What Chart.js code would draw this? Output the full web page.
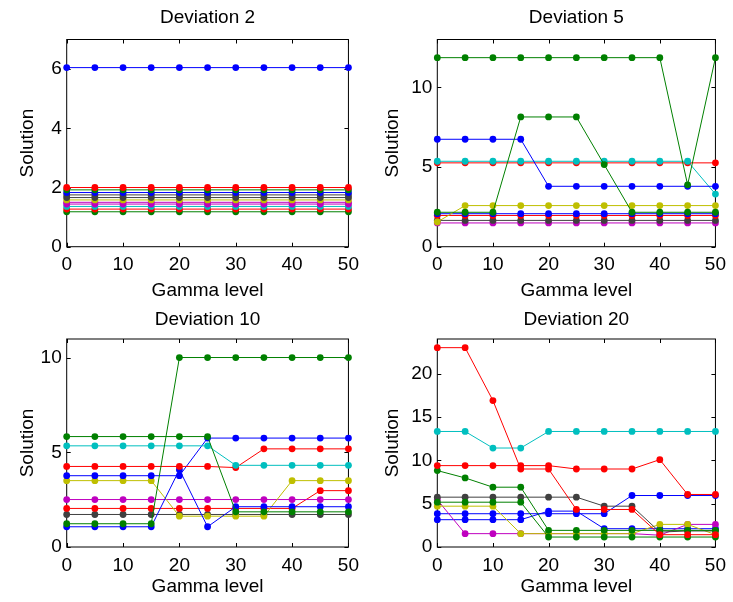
<!DOCTYPE html>
<html>
<head>
<meta charset="utf-8">
<script src="https://cdn.jsdelivr.net/npm/chart.js@4.4.1/dist/chart.umd.min.js"></script>
<style>
  body { margin: 0; background: #fff; }
  #fig { position: relative; width: 733px; height: 602px; }
  #fig canvas { position: absolute; }
</style>
</head>
<body>
<div id="fig">
  <canvas id="dev2" width="366" height="301" style="left:0;top:0"></canvas>
  <canvas id="dev5" width="367" height="301" style="left:366px;top:0"></canvas>
  <canvas id="dev10" width="366" height="301" style="left:0;top:301px"></canvas>
  <canvas id="dev20" width="367" height="301" style="left:366px;top:301px"></canvas>
</div>
<script>
// gamma levels on the x axis
const gamma = [0, 5, 10, 15, 20, 25, 30, 35, 40, 45, 50];
const xTicks = [0, 10, 20, 30, 40, 50];

// Deviation 2 -- every line is flat
const dev2Series = [
  [6.05, 6.05, 6.05, 6.05, 6.05, 6.05, 6.05, 6.05, 6.05, 6.05, 6.05],
  [2.0, 2.0, 2.0, 2.0, 2.0, 2.0, 2.0, 2.0, 2.0, 2.0, 2.0],
  [1.92, 1.92, 1.92, 1.92, 1.92, 1.92, 1.92, 1.92, 1.92, 1.92, 1.92],
  [1.83, 1.83, 1.83, 1.83, 1.83, 1.83, 1.83, 1.83, 1.83, 1.83, 1.83],
  [1.75, 1.75, 1.75, 1.75, 1.75, 1.75, 1.75, 1.75, 1.75, 1.75, 1.75],
  [1.66, 1.66, 1.66, 1.66, 1.66, 1.66, 1.66, 1.66, 1.66, 1.66, 1.66],
  [1.58, 1.58, 1.58, 1.58, 1.58, 1.58, 1.58, 1.58, 1.58, 1.58, 1.58],
  [1.5, 1.5, 1.5, 1.5, 1.5, 1.5, 1.5, 1.5, 1.5, 1.5, 1.5],
  [1.44, 1.44, 1.44, 1.44, 1.44, 1.44, 1.44, 1.44, 1.44, 1.44, 1.44],
  [1.36, 1.36, 1.36, 1.36, 1.36, 1.36, 1.36, 1.36, 1.36, 1.36, 1.36],
  [1.27, 1.27, 1.27, 1.27, 1.27, 1.27, 1.27, 1.27, 1.27, 1.27, 1.27],
  [1.18, 1.18, 1.18, 1.18, 1.18, 1.18, 1.18, 1.18, 1.18, 1.18, 1.18]
];
const dev2Colors = ['b', 'r', 'g', 'b', 'k', 'k', 'y', 'm', 'm', 'c', 'r', 'g'];
const dev2YTicks = [0, 2, 4, 6];

// Deviation 5
const dev5Series = [
  [11.86, 11.86, 11.86, 11.86, 11.86, 11.86, 11.86, 11.86, 11.86, 3.88, 11.86],
  [2.16, 2.16, 2.16, 8.14, 8.14, 8.14, 5.15, 2.16, 2.16, 2.16, 2.16],
  [6.74, 6.74, 6.74, 6.74, 3.79, 3.79, 3.79, 3.79, 3.79, 3.79, 3.79],
  [5.36, 5.36, 5.36, 5.36, 5.36, 5.36, 5.36, 5.36, 5.36, 5.36, 3.3],
  [5.26, 5.26, 5.26, 5.26, 5.26, 5.26, 5.26, 5.26, 5.26, 5.26, 5.26],
  [1.55, 2.58, 2.58, 2.58, 2.58, 2.58, 2.58, 2.58, 2.58, 2.58, 2.58],
  [2.07, 2.07, 2.07, 2.07, 2.07, 2.07, 2.07, 2.07, 2.07, 2.07, 2.07],
  [1.96, 1.96, 1.96, 1.96, 1.96, 1.96, 1.96, 1.96, 1.96, 1.96, 1.96],
  [1.65, 1.65, 1.65, 1.65, 1.65, 1.65, 1.65, 1.65, 1.65, 1.65, 1.65],
  [1.49, 1.49, 1.49, 1.49, 1.49, 1.49, 1.49, 1.49, 1.49, 1.49, 1.49]
];
const dev5Colors = ['g', 'g', 'b', 'c', 'r', 'y', 'b', 'r', 'k', 'm'];
const dev5YTicks = [0, 5, 10];

// Deviation 10
const dev10Series = [
  [5.84, 5.84, 5.84, 5.84, 5.84, 5.84, 1.86, 1.86, 1.86, 1.86, 1.86],
  [1.23, 1.23, 1.23, 1.23, 10.02, 10.02, 10.02, 10.02, 10.02, 10.02, 10.02],
  [5.35, 5.35, 5.35, 5.35, 5.35, 5.35, 4.32, 4.32, 4.32, 4.32, 4.32],
  [4.26, 4.26, 4.26, 4.26, 4.26, 4.26, 4.2, 5.19, 5.19, 5.19, 5.19],
  [3.77, 3.77, 3.77, 3.77, 3.77, 5.76, 5.76, 5.76, 5.76, 5.76, 5.76],
  [1.07, 1.07, 1.07, 1.07, 4.09, 1.07, 2.13, 2.13, 2.13, 2.13, 2.13],
  [3.51, 3.51, 3.51, 3.51, 1.63, 1.63, 1.63, 1.63, 3.51, 3.51, 3.51],
  [2.51, 2.51, 2.51, 2.51, 2.51, 2.51, 2.51, 2.51, 2.51, 2.51, 2.51],
  [2.04, 2.04, 2.04, 2.04, 2.04, 2.04, 2.04, 2.04, 2.04, 2.98, 2.98],
  [1.72, 1.72, 1.72, 1.72, 1.72, 1.72, 1.72, 1.72, 1.72, 1.72, 1.72]
];
const dev10Colors = ['g', 'g', 'c', 'r', 'b', 'b', 'y', 'm', 'r', 'k'];
const dev10YTicks = [0, 5, 10];

// Deviation 20
const dev20Series = [
  [23.0, 23.0, 16.9, 9.0, 9.0, 4.33, 4.33, 4.33, 1.42, 1.42, 1.42],
  [9.39, 9.39, 9.39, 9.39, 9.39, 9.0, 9.0, 9.0, 10.08, 6.06, 6.06],
  [13.33, 13.33, 11.42, 11.42, 13.33, 13.33, 13.33, 13.33, 13.33, 13.33, 13.33],
  [8.82, 7.97, 6.9, 6.9, 1.92, 1.92, 1.92, 1.92, 1.92, 1.92, 1.92],
  [5.17, 5.17, 5.17, 5.17, 1.15, 1.15, 1.15, 1.15, 1.15, 1.15, 1.15],
  [5.75, 5.75, 5.75, 5.75, 5.75, 5.75, 4.71, 4.71, 1.72, 1.85, 1.85],
  [4.71, 4.71, 4.71, 1.54, 1.54, 1.54, 1.54, 1.54, 2.61, 2.61, 1.42],
  [5.45, 1.54, 1.54, 1.54, 1.54, 1.54, 1.54, 1.54, 1.36, 2.61, 2.61],
  [3.84, 3.84, 3.84, 3.84, 3.84, 3.84, 3.84, 5.94, 5.94, 5.94, 5.94],
  [3.15, 3.15, 3.15, 3.15, 4.14, 4.14, 2.11, 2.11, 2.11, 2.11, 2.11]
];
const dev20Colors = ['r', 'r', 'c', 'g', 'g', 'k', 'y', 'm', 'b', 'b'];
const dev20YTicks = [0, 5, 10, 15, 20];

// matlab default line colours
const COLORS = {
  b: '#0000ff', g: '#008000', r: '#ff0000', c: '#00bfbf',
  m: '#bf00bf', y: '#bfbf00', k: '#404040'
};
const FONT = 'Liberation Sans, Arial, sans-serif';

// box with inward tick marks, like a matlab axes
const boxPlugin = {
  id: 'box',
  beforeDatasetsDraw(chart) {
    const { ctx, chartArea: a, scales } = chart;
    const len = 4;
    ctx.save();
    ctx.strokeStyle = '#000';
    ctx.lineWidth = 1;
    ctx.strokeRect(a.left, a.top, a.right - a.left, a.bottom - a.top);
    ctx.beginPath();
    scales.x.ticks.forEach(t => {
      const px = Math.round(scales.x.getPixelForValue(t.value)) + 0.5;
      ctx.moveTo(px, a.bottom); ctx.lineTo(px, a.bottom - len);
      ctx.moveTo(px, a.top); ctx.lineTo(px, a.top + len);
    });
    scales.y.ticks.forEach(t => {
      const py = Math.round(scales.y.getPixelForValue(t.value)) + 0.5;
      ctx.moveTo(a.left, py); ctx.lineTo(a.left + len, py);
      ctx.moveTo(a.right, py); ctx.lineTo(a.right - len, py);
    });
    ctx.stroke();
    ctx.restore();
  }
};

// title centred over the plot box rather than the whole canvas
const axesTitlePlugin = {
  id: 'axesTitle',
  afterDraw(chart, args, opts) {
    const { ctx, chartArea: a } = chart;
    ctx.save();
    ctx.font = '19px ' + FONT;
    ctx.fillStyle = '#000';
    ctx.textAlign = 'center';
    ctx.textBaseline = 'middle';
    ctx.fillText(opts.text, (a.left + a.right) / 2, a.top - opts.gap);
    ctx.restore();
  }
};

function makePanel(id, title, series, colors, yTicks, yMax, geo) {
  const ctx = document.getElementById(id).getContext('2d');
  const datasets = series.map((vals, i) => ({
    data: vals.map((v, j) => ({ x: gamma[j], y: v })),
    borderColor: COLORS[colors[i]],
    backgroundColor: COLORS[colors[i]],
    pointBackgroundColor: COLORS[colors[i]],
    borderWidth: 1,
    pointRadius: 3.4,
    pointBorderWidth: 0,
    tension: 0,
    clip: false
  }));
  const tickFont = { family: FONT, size: 19 };
  new Chart(ctx, {
    type: 'line',
    data: { datasets: datasets },
    options: {
      responsive: false,
      animation: false,
      devicePixelRatio: 1,
      layout: { padding: { left: 0, right: geo.padRight, top: geo.plotTop, bottom: 0 } },
      plugins: {
        legend: { display: false },
        tooltip: { enabled: false },
        title: { display: false },
        axesTitle: { text: title, gap: geo.titleGap }
      },
      scales: {
        x: {
          type: 'linear', min: 0, max: 50,
          grid: { display: false, drawTicks: false },
          border: { display: false },
          ticks: { color: '#000', font: tickFont, padding: 7 },
          afterBuildTicks: s => { s.ticks = xTicks.map(v => ({ value: v })); },
          afterFit: s => { s.height = geo.xHeight; },
          title: {
            display: true, text: 'Gamma level', color: '#000',
            font: { family: FONT, size: 19, lineHeight: 1 },
            padding: { top: 0, bottom: geo.xTitlePad }
          }
        },
        y: {
          type: 'linear', min: 0, max: yMax,
          grid: { display: false, drawTicks: false },
          border: { display: false },
          ticks: { color: '#000', font: tickFont, padding: 5 },
          afterBuildTicks: s => { s.ticks = yTicks.map(v => ({ value: v })); },
          afterFit: s => { s.width = geo.yWidth; },
          title: {
            display: true, text: 'Solution', color: '#000',
            font: { family: FONT, size: 19, lineHeight: 1 },
            padding: { top: geo.yTitlePad, bottom: 0 }
          }
        }
      }
    },
    plugins: [boxPlugin, axesTitlePlugin]
  });
}

const topRow = { plotTop: 39.5, titleGap: 21.5, xHeight: 54.3, xTitlePad: 0.5 };
const bottomRow = { plotTop: 38, titleGap: 19.5, xHeight: 55, xTitlePad: 5.5 };
const leftCol = { yWidth: 66.7, padRight: 17, yTitlePad: 18.5 };
const rightCol = { yWidth: 71.3, padRight: 13, yTitlePad: 17.5 };

makePanel('dev2', 'Deviation 2', dev2Series, dev2Colors, dev2YTicks, 7, Object.assign({}, topRow, leftCol));
makePanel('dev5', 'Deviation 5', dev5Series, dev5Colors, dev5YTicks, 13, Object.assign({}, topRow, rightCol));
makePanel('dev10', 'Deviation 10', dev10Series, dev10Colors, dev10YTicks, 11, Object.assign({}, bottomRow, leftCol));
makePanel('dev20', 'Deviation 20', dev20Series, dev20Colors, dev20YTicks, 24, Object.assign({}, bottomRow, rightCol));
</script>
</body>
</html>
